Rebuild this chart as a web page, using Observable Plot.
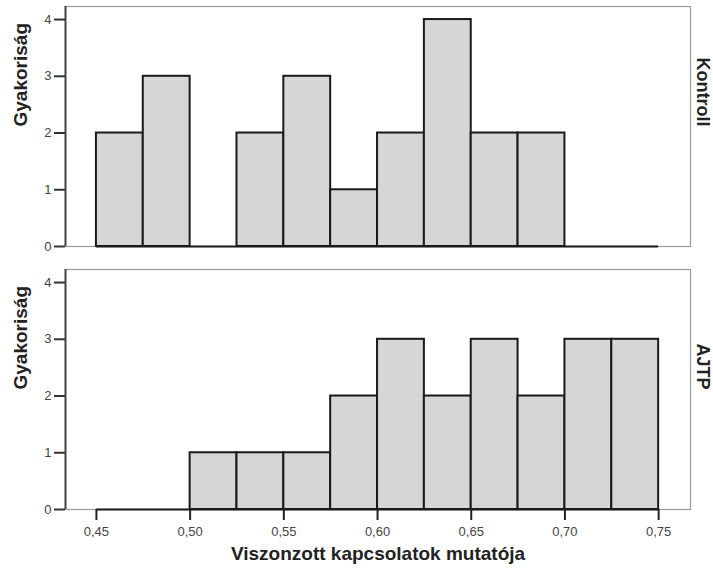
<!DOCTYPE html>
<html>
<head>
<meta charset="utf-8">
<script src="https://cdn.jsdelivr.net/npm/d3@7"></script>
<script src="https://cdn.jsdelivr.net/npm/@observablehq/plot@0.6"></script>
<style>
  html, body { margin: 0; padding: 0; background: #fff; }
  #chart svg { display: block; }
</style>
</head>
<body>
<div id="chart"></div>
<script>
const groups = ["Kontroll", "AJTP"];
const binStart = [0.450, 0.475, 0.500, 0.525, 0.550, 0.575, 0.600, 0.625, 0.650, 0.675, 0.700, 0.725];
const binEnd   = [0.475, 0.500, 0.525, 0.550, 0.575, 0.600, 0.625, 0.650, 0.675, 0.700, 0.725, 0.750];
const kontrollCounts = [2, 3, 0, 2, 3, 1, 2, 4, 2, 2, 0, 0];
const ajtpCounts     = [0, 0, 1, 1, 1, 2, 3, 2, 3, 2, 3, 3];
const xTicks = [0.45, 0.50, 0.55, 0.60, 0.65, 0.70, 0.75];
const yTicks = [0, 1, 2, 3, 4];
const yLabel = "Gyakoriság";
const xLabel = "Viszonzott kapcsolatok mutatója";

const bins = [];
groups.forEach((g, gi) => {
  const counts = gi === 0 ? kontrollCounts : ajtpCounts;
  binStart.forEach((s, i) => bins.push({group: g, x1: s, x2: binEnd[i], count: counts[i]}));
});
const filled = bins.filter(d => d.count > 0);
const groupRows = groups.map(g => ({group: g}));
const comma = v => d3.format(".2f")(v).replace(".", ",");

const chart = Plot.plot({
  width: 713,
  height: 571,
  marginLeft: 65,
  marginRight: 23,
  marginTop: 6,
  marginBottom: 62,
  style: {fontFamily: "Liberation Sans, Arial, sans-serif", background: "#fff"},
  x: {domain: [0.4335, 0.767]},
  y: {domain: [0, 4.23]},
  fy: {domain: groups, paddingInner: 0.0875, paddingOuter: 0, axis: null, label: null},
  marks: [
    Plot.frame({stroke: "#9a9a9a", strokeWidth: 1.2}),
    Plot.rectY(filled, {x1: "x1", x2: "x2", y1: 0, y2: "count", fy: "group",
      fill: "#d6d6d6", stroke: "#1a1a1a", strokeWidth: 2}),
    Plot.ruleY(groupRows, {y: 0, x1: binStart[0], x2: binEnd[binEnd.length - 1], fy: "group",
      stroke: "#1a1a1a", strokeWidth: 2.2}),
    Plot.ruleX(groupRows, {x: 0.4335, y1: 0, y2: 4.23, fy: "group", stroke: "#444", strokeWidth: 2}),
    Plot.axisY({ticks: yTicks, tickSize: 11, tickPadding: 3, tickFormat: d3.format("d"),
      label: null, fontSize: 13, color: "#444", stroke: "#333", strokeWidth: 2}),
    Plot.axisX({ticks: xTicks, tickSize: 11, tickPadding: 6, tickFormat: comma,
      label: null, fontSize: 13, color: "#444", stroke: "#222", strokeWidth: 2}),
    Plot.text(groupRows, {fy: "group", text: () => yLabel, frameAnchor: "left", dx: -45,
      rotate: -90, fontSize: 19, fontWeight: "bold", fill: "#222"}),
    Plot.text(groupRows, {fy: "group", text: "group", frameAnchor: "right", dx: 12,
      rotate: 90, fontSize: 18, fontWeight: "bold", fill: "#222"}),
    Plot.text([{group: "AJTP"}], {fy: "group", text: () => xLabel, frameAnchor: "bottom",
      dy: 50, fontSize: 19, fontWeight: "bold", fill: "#222"})
  ]
});
document.getElementById("chart").appendChild(chart);
</script>
</body>
</html>
